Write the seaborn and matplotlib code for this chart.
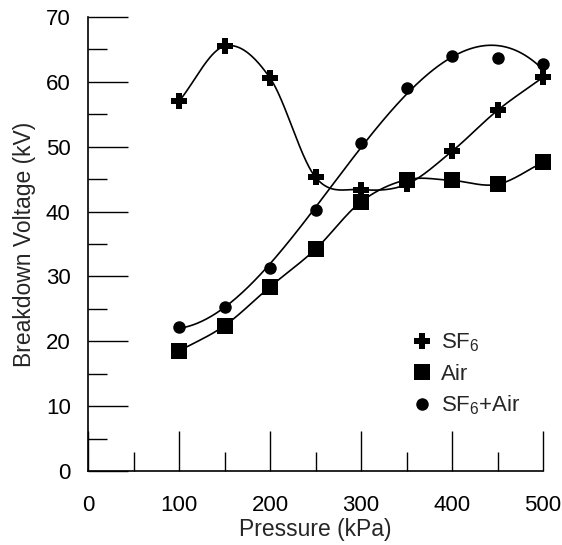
import numpy as np
import matplotlib
matplotlib.use("Agg")
import matplotlib.pyplot as plt
import seaborn as sns
from matplotlib.ticker import MultipleLocator

pressure = [100, 150, 200, 250, 300, 350, 400, 450, 500]
sf6 = [57.0, 65.5, 60.6, 45.3, 43.4, 44.2, 49.3, 55.6, 60.7]
air = [18.5, 22.4, 28.4, 34.2, 41.5, 44.9, 44.8, 44.2, 47.6]
sf6_air = [22.2, 25.3, 31.3, 40.2, 50.5, 59.1, 64.0, 63.7, 62.8]

labels = ["SF$_6$", "Air", "SF$_6$+Air"]
markers = ["P", "s", "o"]
msizes = [11, 11, 9]
fit_kind = ["spline", "spline", "poly3"]

sns.set_theme(style="white")
plt.rcParams["font.family"] = ["Liberation Sans", "DejaVu Sans"]
plt.rcParams["mathtext.fontset"] = "custom"
plt.rcParams["mathtext.rm"] = "Liberation Sans"
plt.rcParams["mathtext.it"] = "Liberation Sans"
plt.rcParams["mathtext.default"] = "regular"


def smooth(xs, ys, n=40):
    xs = np.asarray(xs, float)
    ys = np.asarray(ys, float)
    k = len(xs)
    m = np.zeros(k)
    for i in range(1, k - 1):
        m[i] = (ys[i + 1] - ys[i - 1]) / (xs[i + 1] - xs[i - 1])
    m[0] = (ys[1] - ys[0]) / (xs[1] - xs[0])
    m[-1] = (ys[-1] - ys[-2]) / (xs[-1] - xs[-2])
    ox, oy = [], []
    for i in range(k - 1):
        h = xs[i + 1] - xs[i]
        t = np.linspace(0, 1, n, endpoint=(i == k - 2))
        h00 = 2 * t**3 - 3 * t**2 + 1
        h10 = t**3 - 2 * t**2 + t
        h01 = -2 * t**3 + 3 * t**2
        h11 = t**3 - t**2
        oy.append(h00 * ys[i] + h10 * h * m[i] + h01 * ys[i + 1] + h11 * h * m[i + 1])
        ox.append(xs[i] + t * h)
    return np.concatenate(ox), np.concatenate(oy)


def polyfit3(xs, ys, n=300):
    c = np.polyfit(xs, ys, 3)
    gx = np.linspace(min(xs), max(xs), n)
    return gx, np.polyval(c, gx)


fig = plt.figure(figsize=(5.62, 5.45), dpi=100)
ax = fig.add_axes([88 / 562, (545 - 471) / 545, (543 - 88) / 562, (471 - 17) / 545])

for series, lab, mk, ms, kind in zip([sf6, air, sf6_air], labels, markers, msizes, fit_kind):
    if kind == "poly3":
        sx, sy = polyfit3(pressure, series)
    else:
        sx, sy = smooth(pressure, series)
    sns.lineplot(x=sx, y=sy, ax=ax, color="black", lw=1.2, sort=False, clip_on=False)
    ax.plot(pressure, series, linestyle="none", marker=mk, markersize=ms,
            color="black", markeredgewidth=0, label=lab, clip_on=False, zorder=5)

ax.set_xlim(0, 500)
ax.set_ylim(0, 70)
ax.xaxis.set_major_locator(MultipleLocator(100))
ax.xaxis.set_minor_locator(MultipleLocator(50))
ax.yaxis.set_major_locator(MultipleLocator(10))
ax.yaxis.set_minor_locator(MultipleLocator(5))

ax.tick_params(axis="both", which="major", direction="in", length=28.5, width=1.0,
               color="black", labelsize=16, labelcolor="black")
ax.tick_params(axis="both", which="minor", direction="in", length=14, width=1.0, color="black")
ax.tick_params(axis="x", which="major", pad=17.5)
ax.tick_params(axis="y", which="major", pad=12.5)
ax.tick_params(axis="both", which="both", bottom=True, left=True, top=False, right=False)

for s in ["top", "right"]:
    ax.spines[s].set_visible(False)
for s in ["left", "bottom"]:
    ax.spines[s].set_color("black")
    ax.spines[s].set_linewidth(1.2)

ax.set_xlabel("Pressure (kPa)", fontsize=16.5, labelpad=1.5)
ax.set_ylabel("Breakdown Voltage (kV)", fontsize=16.5, labelpad=7)

leg = ax.legend(loc="upper left", bbox_to_anchor=(0.69, 0.3315), frameon=False, fontsize=16,
                handlelength=0.8, handletextpad=0.45, labelspacing=0.42, borderpad=0)

fig.savefig("out.png", dpi=100)
